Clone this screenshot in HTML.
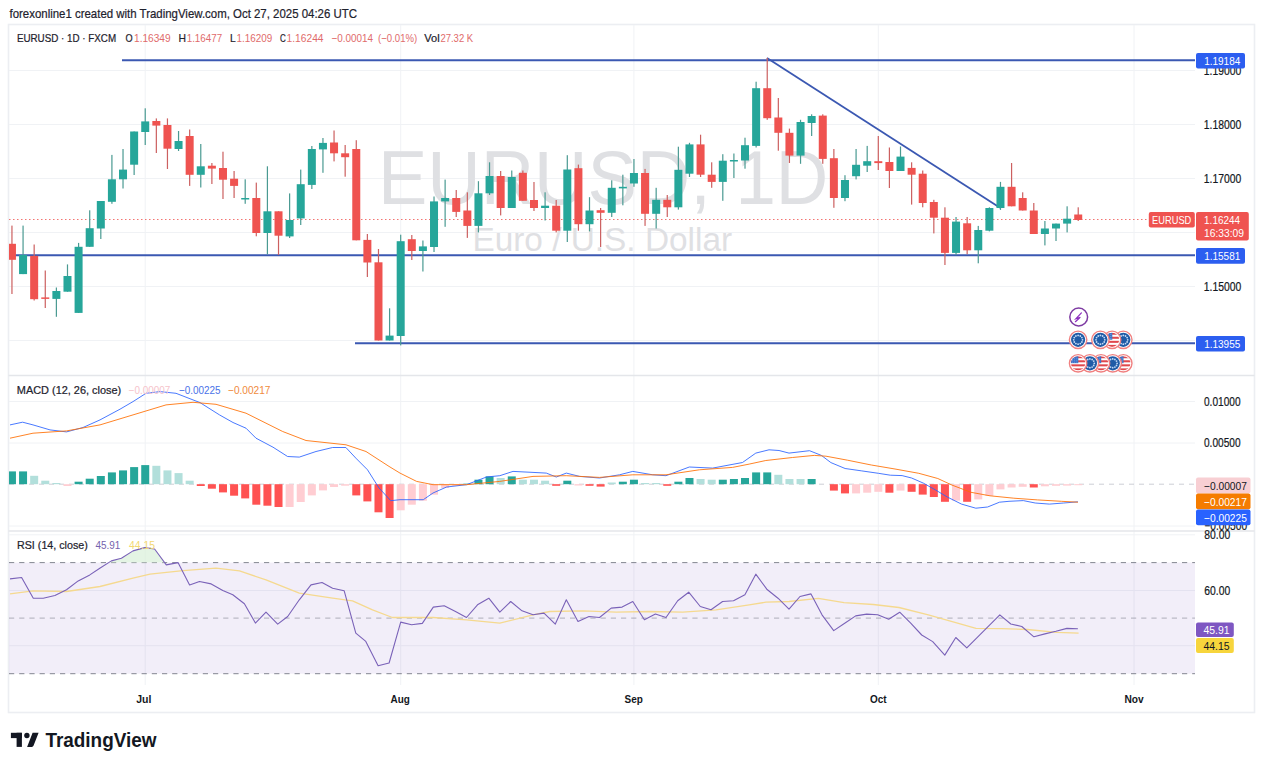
<!DOCTYPE html>
<html><head><meta charset="utf-8"><style>
html,body{margin:0;padding:0;background:#fff;width:1263px;height:768px;overflow:hidden}
svg{position:absolute;left:0;top:0;font-family:"Liberation Sans", sans-serif}
</style></head><body>
<svg width="1263" height="768" viewBox="0 0 1263 768">
<text x="9.5" y="17.9" font-size="12.8" fill="#1e222d" stroke="#1e222d" stroke-width="0.22" textLength="347.5" lengthAdjust="spacingAndGlyphs">forexonline1 created with TradingView.com, Oct 27, 2025 04:26 UTC</text>
<defs>
<clipPath id="cMain"><rect x="9" y="25" width="1186" height="350"/></clipPath>
<clipPath id="cMacd"><rect x="9" y="376" width="1186" height="154"/></clipPath>
<clipPath id="cRsi"><rect x="9" y="531.5" width="1186" height="153"/></clipPath>
<linearGradient id="gOB" x1="0" y1="0" x2="0" y2="1"><stop offset="0" stop-color="#4caf50" stop-opacity="0.35"/><stop offset="1" stop-color="#4caf50" stop-opacity="0.05"/></linearGradient>
</defs>
<rect x="8.5" y="24.5" width="1246" height="688" fill="#fff" stroke="#eceef2" stroke-width="1.6"/>
<line x1="145.2" y1="25" x2="145.2" y2="685" stroke="#f0f2f5" stroke-width="1"/>
<line x1="400.7" y1="25" x2="400.7" y2="685" stroke="#f0f2f5" stroke-width="1"/>
<line x1="633.9" y1="25" x2="633.9" y2="685" stroke="#f0f2f5" stroke-width="1"/>
<line x1="878.3" y1="25" x2="878.3" y2="685" stroke="#f0f2f5" stroke-width="1"/>
<line x1="1134.0" y1="25" x2="1134.0" y2="685" stroke="#f0f2f5" stroke-width="1"/>
<line x1="9" y1="340.5" x2="1195" y2="340.5" stroke="#f0f2f5" stroke-width="1"/>
<line x1="9" y1="286.5" x2="1195" y2="286.5" stroke="#f0f2f5" stroke-width="1"/>
<line x1="9" y1="232.5" x2="1195" y2="232.5" stroke="#f0f2f5" stroke-width="1"/>
<line x1="9" y1="178.5" x2="1195" y2="178.5" stroke="#f0f2f5" stroke-width="1"/>
<line x1="9" y1="124.5" x2="1195" y2="124.5" stroke="#f0f2f5" stroke-width="1"/>
<line x1="9" y1="70.5" x2="1195" y2="70.5" stroke="#f0f2f5" stroke-width="1"/>
<line x1="9" y1="401.5" x2="1195" y2="401.5" stroke="#f0f2f5" stroke-width="1"/>
<line x1="9" y1="443" x2="1195" y2="443" stroke="#f0f2f5" stroke-width="1"/>
<line x1="9" y1="526" x2="1195" y2="526" stroke="#f0f2f5" stroke-width="1"/>
<line x1="9" y1="534.8" x2="1195" y2="534.8" stroke="#f0f2f5" stroke-width="1"/>
<line x1="9" y1="590.5" x2="1195" y2="590.5" stroke="#f0f2f5" stroke-width="1"/>
<line x1="9" y1="645.7" x2="1195" y2="645.7" stroke="#f0f2f5" stroke-width="1"/>
<line x1="8.5" y1="375.5" x2="1254.5" y2="375.5" stroke="#e4e6ea" stroke-width="1.5"/>
<line x1="8.5" y1="531" x2="1254.5" y2="531" stroke="#e4e6ea" stroke-width="1.5"/>
<text x="377.9" y="204.4" font-family='"Liberation Sans", sans-serif' font-size="76.5" fill="#dfe0e3" textLength="332.9" lengthAdjust="spacingAndGlyphs">EURUSD,</text>
<text x="735.5" y="204.4" font-family='"Liberation Sans", sans-serif' font-size="76.5" fill="#dfe0e3" textLength="92.8" lengthAdjust="spacingAndGlyphs">1D</text>
<text x="472.4" y="250.5" font-family='"Liberation Sans", sans-serif' font-size="32.5" fill="#dfe0e3" textLength="259.7" lengthAdjust="spacingAndGlyphs">Euro / U.S. Dollar</text>
<g clip-path="url(#cMain)">
<line x1="9" y1="219.5" x2="1195" y2="219.5" stroke="#ef5350" stroke-width="1" stroke-dasharray="1.5,2.5" opacity="0.8"/>
<line x1="122" y1="60.2" x2="1195" y2="60.2" stroke="#3b58b2" stroke-width="2"/>
<line x1="9" y1="255.3" x2="1195" y2="255.3" stroke="#3b58b2" stroke-width="2"/>
<line x1="355" y1="343.3" x2="1195" y2="343.3" stroke="#3b58b2" stroke-width="2"/>
<line x1="767" y1="58" x2="1000" y2="207.8" stroke="#3b58b2" stroke-width="1.8"/>
<rect x="11.35" y="225.6" width="1.2" height="68.4" fill="#cc6060"/>
<rect x="7.95" y="243.8" width="8" height="16.0" fill="#ef5350"/>
<rect x="22.46" y="225.6" width="1.2" height="48.5" fill="#4a9a92"/>
<rect x="19.06" y="254.9" width="8" height="19.2" fill="#26a69a"/>
<rect x="33.56" y="244.5" width="1.2" height="56.0" fill="#cc6060"/>
<rect x="30.16" y="255.9" width="8" height="43.3" fill="#ef5350"/>
<rect x="44.67" y="270.5" width="1.2" height="37.5" fill="#cc6060"/>
<rect x="41.27" y="297.4" width="8" height="1.5" fill="#ef5350"/>
<rect x="55.78" y="287.5" width="1.2" height="29.3" fill="#4a9a92"/>
<rect x="52.38" y="291.0" width="8" height="7.9" fill="#26a69a"/>
<rect x="66.89" y="264.4" width="1.2" height="27.3" fill="#4a9a92"/>
<rect x="63.48" y="276.0" width="8" height="15.7" fill="#26a69a"/>
<rect x="77.99" y="242.9" width="1.2" height="70.0" fill="#4a9a92"/>
<rect x="74.59" y="246.8" width="8" height="66.1" fill="#26a69a"/>
<rect x="89.10" y="210.3" width="1.2" height="36.5" fill="#4a9a92"/>
<rect x="85.70" y="228.2" width="8" height="18.6" fill="#26a69a"/>
<rect x="100.21" y="201.0" width="1.2" height="38.0" fill="#4a9a92"/>
<rect x="96.81" y="201.0" width="8" height="27.5" fill="#26a69a"/>
<rect x="111.31" y="154.9" width="1.2" height="48.9" fill="#4a9a92"/>
<rect x="107.91" y="179.3" width="8" height="22.5" fill="#26a69a"/>
<rect x="122.42" y="149.0" width="1.2" height="39.5" fill="#4a9a92"/>
<rect x="119.02" y="169.6" width="8" height="9.7" fill="#26a69a"/>
<rect x="133.53" y="131.5" width="1.2" height="43.5" fill="#4a9a92"/>
<rect x="130.13" y="131.5" width="8" height="33.2" fill="#26a69a"/>
<rect x="144.63" y="108.3" width="1.2" height="36.7" fill="#4a9a92"/>
<rect x="141.23" y="121.4" width="8" height="10.6" fill="#26a69a"/>
<rect x="155.74" y="118.4" width="1.2" height="34.6" fill="#cc6060"/>
<rect x="152.34" y="121.0" width="8" height="4.6" fill="#ef5350"/>
<rect x="166.85" y="118.4" width="1.2" height="50.6" fill="#cc6060"/>
<rect x="163.45" y="125.0" width="8" height="23.7" fill="#ef5350"/>
<rect x="177.95" y="131.0" width="1.2" height="20.0" fill="#4a9a92"/>
<rect x="174.55" y="141.0" width="8" height="8.0" fill="#26a69a"/>
<rect x="189.06" y="129.5" width="1.2" height="56.4" fill="#cc6060"/>
<rect x="185.66" y="136.0" width="8" height="38.8" fill="#ef5350"/>
<rect x="200.17" y="144.0" width="1.2" height="43.5" fill="#4a9a92"/>
<rect x="196.77" y="166.3" width="8" height="8.5" fill="#26a69a"/>
<rect x="211.28" y="163.0" width="1.2" height="21.0" fill="#cc6060"/>
<rect x="207.88" y="165.7" width="8" height="2.9" fill="#ef5350"/>
<rect x="222.38" y="151.7" width="1.2" height="47.3" fill="#cc6060"/>
<rect x="218.98" y="168.0" width="8" height="11.7" fill="#ef5350"/>
<rect x="233.49" y="171.0" width="1.2" height="27.0" fill="#cc6060"/>
<rect x="230.09" y="178.7" width="8" height="7.2" fill="#ef5350"/>
<rect x="244.60" y="179.3" width="1.2" height="24.5" fill="#4a9a92"/>
<rect x="241.20" y="198.0" width="8" height="1.5" fill="#26a69a"/>
<rect x="255.70" y="182.6" width="1.2" height="53.7" fill="#cc6060"/>
<rect x="252.30" y="198.0" width="8" height="35.0" fill="#ef5350"/>
<rect x="266.81" y="166.3" width="1.2" height="88.0" fill="#4a9a92"/>
<rect x="263.41" y="211.3" width="8" height="21.7" fill="#26a69a"/>
<rect x="277.92" y="211.3" width="1.2" height="43.7" fill="#cc6060"/>
<rect x="274.52" y="211.3" width="8" height="24.4" fill="#ef5350"/>
<rect x="289.02" y="193.4" width="1.2" height="44.6" fill="#4a9a92"/>
<rect x="285.62" y="220.0" width="8" height="16.4" fill="#26a69a"/>
<rect x="300.13" y="169.6" width="1.2" height="55.4" fill="#4a9a92"/>
<rect x="296.73" y="184.2" width="8" height="34.2" fill="#26a69a"/>
<rect x="311.24" y="146.0" width="1.2" height="43.0" fill="#4a9a92"/>
<rect x="307.84" y="149.0" width="8" height="35.9" fill="#26a69a"/>
<rect x="322.35" y="138.0" width="1.2" height="34.8" fill="#4a9a92"/>
<rect x="318.95" y="142.9" width="8" height="6.5" fill="#26a69a"/>
<rect x="333.45" y="130.5" width="1.2" height="30.9" fill="#cc6060"/>
<rect x="330.05" y="142.5" width="8" height="10.8" fill="#ef5350"/>
<rect x="344.56" y="145.0" width="1.2" height="31.7" fill="#cc6060"/>
<rect x="341.16" y="153.3" width="8" height="3.9" fill="#ef5350"/>
<rect x="355.67" y="140.2" width="1.2" height="100.1" fill="#cc6060"/>
<rect x="352.27" y="149.0" width="8" height="91.3" fill="#ef5350"/>
<rect x="366.77" y="234.0" width="1.2" height="43.0" fill="#cc6060"/>
<rect x="363.37" y="239.9" width="8" height="22.6" fill="#ef5350"/>
<rect x="377.88" y="249.0" width="1.2" height="91.5" fill="#cc6060"/>
<rect x="374.48" y="262.3" width="8" height="78.2" fill="#ef5350"/>
<rect x="388.99" y="308.3" width="1.2" height="32.2" fill="#4a9a92"/>
<rect x="385.59" y="335.6" width="8" height="4.9" fill="#26a69a"/>
<rect x="400.09" y="234.7" width="1.2" height="110.7" fill="#4a9a92"/>
<rect x="396.69" y="241.2" width="8" height="94.8" fill="#26a69a"/>
<rect x="411.20" y="235.0" width="1.2" height="25.0" fill="#cc6060"/>
<rect x="407.80" y="239.2" width="8" height="11.8" fill="#ef5350"/>
<rect x="422.31" y="240.5" width="1.2" height="31.0" fill="#4a9a92"/>
<rect x="418.91" y="246.4" width="8" height="4.6" fill="#26a69a"/>
<rect x="433.42" y="196.5" width="1.2" height="55.5" fill="#4a9a92"/>
<rect x="430.02" y="201.4" width="8" height="45.6" fill="#26a69a"/>
<rect x="444.52" y="179.6" width="1.2" height="47.2" fill="#4a9a92"/>
<rect x="441.12" y="198.0" width="8" height="3.4" fill="#26a69a"/>
<rect x="455.63" y="190.0" width="1.2" height="27.0" fill="#cc6060"/>
<rect x="452.23" y="198.0" width="8" height="13.9" fill="#ef5350"/>
<rect x="466.74" y="192.3" width="1.2" height="45.6" fill="#cc6060"/>
<rect x="463.34" y="210.5" width="8" height="15.4" fill="#ef5350"/>
<rect x="477.84" y="181.2" width="1.2" height="51.2" fill="#4a9a92"/>
<rect x="474.44" y="193.3" width="8" height="32.6" fill="#26a69a"/>
<rect x="488.95" y="162.3" width="1.2" height="32.7" fill="#4a9a92"/>
<rect x="485.55" y="176.0" width="8" height="17.3" fill="#26a69a"/>
<rect x="500.06" y="171.0" width="1.2" height="44.4" fill="#cc6060"/>
<rect x="496.66" y="176.0" width="8" height="32.0" fill="#ef5350"/>
<rect x="511.16" y="170.5" width="1.2" height="37.5" fill="#4a9a92"/>
<rect x="507.76" y="177.0" width="8" height="31.0" fill="#26a69a"/>
<rect x="522.27" y="170.5" width="1.2" height="30.3" fill="#cc6060"/>
<rect x="518.87" y="172.8" width="8" height="28.0" fill="#ef5350"/>
<rect x="533.38" y="182.0" width="1.2" height="29.0" fill="#cc6060"/>
<rect x="529.98" y="200.0" width="8" height="8.0" fill="#ef5350"/>
<rect x="544.49" y="192.3" width="1.2" height="28.2" fill="#4a9a92"/>
<rect x="541.09" y="205.7" width="8" height="2.3" fill="#26a69a"/>
<rect x="555.59" y="200.0" width="1.2" height="32.4" fill="#cc6060"/>
<rect x="552.19" y="205.7" width="8" height="25.0" fill="#ef5350"/>
<rect x="566.70" y="155.2" width="1.2" height="86.8" fill="#4a9a92"/>
<rect x="563.30" y="169.5" width="8" height="61.2" fill="#26a69a"/>
<rect x="577.81" y="164.6" width="1.2" height="66.1" fill="#cc6060"/>
<rect x="574.41" y="168.2" width="8" height="56.0" fill="#ef5350"/>
<rect x="588.91" y="197.2" width="1.2" height="34.2" fill="#4a9a92"/>
<rect x="585.51" y="210.5" width="8" height="13.7" fill="#26a69a"/>
<rect x="600.02" y="208.0" width="1.2" height="39.0" fill="#cc6060"/>
<rect x="596.62" y="210.2" width="8" height="2.6" fill="#ef5350"/>
<rect x="611.13" y="180.3" width="1.2" height="36.7" fill="#4a9a92"/>
<rect x="607.73" y="187.8" width="8" height="25.0" fill="#26a69a"/>
<rect x="622.24" y="174.7" width="1.2" height="30.6" fill="#4a9a92"/>
<rect x="618.84" y="186.8" width="8" height="1.6" fill="#26a69a"/>
<rect x="633.34" y="159.0" width="1.2" height="27.8" fill="#4a9a92"/>
<rect x="629.94" y="173.0" width="8" height="10.5" fill="#26a69a"/>
<rect x="644.45" y="168.9" width="1.2" height="57.0" fill="#cc6060"/>
<rect x="641.05" y="173.0" width="8" height="40.8" fill="#ef5350"/>
<rect x="655.56" y="187.8" width="1.2" height="40.7" fill="#4a9a92"/>
<rect x="652.16" y="199.8" width="8" height="14.0" fill="#26a69a"/>
<rect x="666.66" y="195.0" width="1.2" height="22.0" fill="#cc6060"/>
<rect x="663.26" y="199.8" width="8" height="7.5" fill="#ef5350"/>
<rect x="677.77" y="146.7" width="1.2" height="62.9" fill="#4a9a92"/>
<rect x="674.37" y="169.8" width="8" height="37.5" fill="#26a69a"/>
<rect x="688.88" y="142.8" width="1.2" height="34.2" fill="#4a9a92"/>
<rect x="685.48" y="144.4" width="8" height="29.3" fill="#26a69a"/>
<rect x="699.98" y="134.7" width="1.2" height="42.3" fill="#cc6060"/>
<rect x="696.58" y="144.4" width="8" height="30.3" fill="#ef5350"/>
<rect x="711.09" y="162.3" width="1.2" height="25.5" fill="#cc6060"/>
<rect x="707.69" y="174.7" width="8" height="7.2" fill="#ef5350"/>
<rect x="722.20" y="154.2" width="1.2" height="46.6" fill="#4a9a92"/>
<rect x="718.80" y="160.7" width="8" height="21.2" fill="#26a69a"/>
<rect x="733.30" y="153.5" width="1.2" height="24.5" fill="#4a9a92"/>
<rect x="729.90" y="160.0" width="8" height="1.5" fill="#26a69a"/>
<rect x="744.41" y="137.7" width="1.2" height="31.0" fill="#4a9a92"/>
<rect x="741.01" y="145.2" width="8" height="15.3" fill="#26a69a"/>
<rect x="755.52" y="81.7" width="1.2" height="65.8" fill="#4a9a92"/>
<rect x="752.12" y="88.2" width="8" height="57.7" fill="#26a69a"/>
<rect x="766.63" y="57.9" width="1.2" height="61.9" fill="#cc6060"/>
<rect x="763.23" y="88.2" width="8" height="30.0" fill="#ef5350"/>
<rect x="777.73" y="98.0" width="1.2" height="52.7" fill="#cc6060"/>
<rect x="774.33" y="117.5" width="8" height="15.3" fill="#ef5350"/>
<rect x="788.84" y="128.6" width="1.2" height="34.4" fill="#cc6060"/>
<rect x="785.44" y="132.8" width="8" height="22.8" fill="#ef5350"/>
<rect x="799.95" y="119.8" width="1.2" height="44.0" fill="#4a9a92"/>
<rect x="796.55" y="122.0" width="8" height="33.6" fill="#26a69a"/>
<rect x="811.05" y="114.3" width="1.2" height="21.7" fill="#4a9a92"/>
<rect x="807.65" y="116.0" width="8" height="7.0" fill="#26a69a"/>
<rect x="822.16" y="114.3" width="1.2" height="49.5" fill="#cc6060"/>
<rect x="818.76" y="115.6" width="8" height="43.3" fill="#ef5350"/>
<rect x="833.27" y="149.0" width="1.2" height="58.8" fill="#cc6060"/>
<rect x="829.87" y="158.2" width="8" height="39.8" fill="#ef5350"/>
<rect x="844.38" y="175.2" width="1.2" height="26.0" fill="#4a9a92"/>
<rect x="840.98" y="180.0" width="8" height="18.0" fill="#26a69a"/>
<rect x="855.48" y="149.0" width="1.2" height="30.4" fill="#4a9a92"/>
<rect x="852.08" y="164.8" width="8" height="11.4" fill="#26a69a"/>
<rect x="866.59" y="145.9" width="1.2" height="26.1" fill="#4a9a92"/>
<rect x="863.19" y="161.2" width="8" height="4.5" fill="#26a69a"/>
<rect x="877.70" y="136.0" width="1.2" height="34.0" fill="#cc6060"/>
<rect x="874.30" y="161.2" width="8" height="1.9" fill="#ef5350"/>
<rect x="888.80" y="147.5" width="1.2" height="40.5" fill="#cc6060"/>
<rect x="885.40" y="162.0" width="8" height="9.0" fill="#ef5350"/>
<rect x="899.91" y="146.5" width="1.2" height="24.5" fill="#4a9a92"/>
<rect x="896.51" y="156.6" width="8" height="14.4" fill="#26a69a"/>
<rect x="911.02" y="162.3" width="1.2" height="42.3" fill="#cc6060"/>
<rect x="907.62" y="167.9" width="8" height="6.8" fill="#ef5350"/>
<rect x="922.12" y="170.5" width="1.2" height="36.8" fill="#cc6060"/>
<rect x="918.72" y="173.7" width="8" height="29.3" fill="#ef5350"/>
<rect x="933.23" y="199.8" width="1.2" height="33.6" fill="#cc6060"/>
<rect x="929.83" y="202.0" width="8" height="15.7" fill="#ef5350"/>
<rect x="944.34" y="207.3" width="1.2" height="57.7" fill="#cc6060"/>
<rect x="940.94" y="217.7" width="8" height="35.2" fill="#ef5350"/>
<rect x="955.44" y="217.0" width="1.2" height="38.2" fill="#4a9a92"/>
<rect x="952.04" y="221.6" width="8" height="31.3" fill="#26a69a"/>
<rect x="966.55" y="217.0" width="1.2" height="37.2" fill="#cc6060"/>
<rect x="963.15" y="223.3" width="8" height="27.0" fill="#ef5350"/>
<rect x="977.66" y="225.9" width="1.2" height="37.4" fill="#4a9a92"/>
<rect x="974.26" y="230.0" width="8" height="20.3" fill="#26a69a"/>
<rect x="988.77" y="207.3" width="1.2" height="24.1" fill="#4a9a92"/>
<rect x="985.37" y="208.0" width="8" height="22.7" fill="#26a69a"/>
<rect x="999.87" y="181.9" width="1.2" height="28.0" fill="#4a9a92"/>
<rect x="996.47" y="186.8" width="8" height="21.2" fill="#26a69a"/>
<rect x="1010.98" y="163.0" width="1.2" height="43.3" fill="#cc6060"/>
<rect x="1007.58" y="186.8" width="8" height="19.5" fill="#ef5350"/>
<rect x="1022.09" y="192.3" width="1.2" height="18.2" fill="#cc6060"/>
<rect x="1018.69" y="198.0" width="8" height="12.5" fill="#ef5350"/>
<rect x="1033.19" y="203.0" width="1.2" height="31.0" fill="#cc6060"/>
<rect x="1029.79" y="210.5" width="8" height="23.5" fill="#ef5350"/>
<rect x="1044.30" y="221.0" width="1.2" height="24.4" fill="#4a9a92"/>
<rect x="1040.90" y="228.5" width="8" height="5.5" fill="#26a69a"/>
<rect x="1055.41" y="223.6" width="1.2" height="17.4" fill="#4a9a92"/>
<rect x="1052.01" y="223.6" width="8" height="4.9" fill="#26a69a"/>
<rect x="1066.52" y="206.3" width="1.2" height="26.1" fill="#4a9a92"/>
<rect x="1063.12" y="218.7" width="8" height="4.9" fill="#26a69a"/>
<rect x="1077.62" y="207.3" width="1.2" height="13.7" fill="#cc6060"/>
<rect x="1074.22" y="214.5" width="8" height="5.5" fill="#ef5350"/>
</g>
<g>
<circle cx="1078.7" cy="317" r="8.9" fill="#fff" stroke="#7e3ba3" stroke-width="1.5"/>
<path d="M1081.4,312.9 L1076.0,318.6 L1080.3,317.3 L1075.4,321.7" fill="none" stroke="#8e2fc0" stroke-width="1.25" stroke-linejoin="miter" stroke-linecap="round"/>
<circle cx="1123.3" cy="363.3" r="8.7" fill="#fff" stroke="#f08080" stroke-width="1.4"/><clipPath id="usc1"><circle cx="1123.3" cy="363.3" r="7.1"/></clipPath><g clip-path="url(#usc1)"><rect x="1115.3" y="355.3" width="16" height="16" fill="#fff"/><rect x="1115.3" y="356.20" width="16" height="2.03" fill="#e0474c"/><rect x="1115.3" y="360.26" width="16" height="2.03" fill="#e0474c"/><rect x="1115.3" y="364.32" width="16" height="2.03" fill="#e0474c"/><rect x="1115.3" y="368.38" width="16" height="2.03" fill="#e0474c"/><rect x="1115.3" y="355.3" width="8.2" height="7.9" fill="#3d72c8"/><circle cx="1117.70" cy="358.10" r="0.45" fill="#b9d2f2"/><circle cx="1117.70" cy="360.10" r="0.45" fill="#b9d2f2"/><circle cx="1117.70" cy="362.10" r="0.45" fill="#b9d2f2"/><circle cx="1119.90" cy="358.10" r="0.45" fill="#b9d2f2"/><circle cx="1119.90" cy="360.10" r="0.45" fill="#b9d2f2"/><circle cx="1119.90" cy="362.10" r="0.45" fill="#b9d2f2"/><circle cx="1122.10" cy="358.10" r="0.45" fill="#b9d2f2"/><circle cx="1122.10" cy="360.10" r="0.45" fill="#b9d2f2"/><circle cx="1122.10" cy="362.10" r="0.45" fill="#b9d2f2"/></g>
<circle cx="1112.7" cy="363.3" r="8.7" fill="#fff" stroke="#f08080" stroke-width="1.4"/><circle cx="1112.7" cy="363.3" r="7.1" fill="#1f5ba6"/><circle cx="1117.10" cy="363.30" r="0.9" fill="#c4daf5"/><circle cx="1116.51" cy="365.50" r="0.9" fill="#c4daf5"/><circle cx="1114.90" cy="367.11" r="0.9" fill="#c4daf5"/><circle cx="1112.70" cy="367.70" r="0.9" fill="#c4daf5"/><circle cx="1110.50" cy="367.11" r="0.9" fill="#c4daf5"/><circle cx="1108.89" cy="365.50" r="0.9" fill="#c4daf5"/><circle cx="1108.30" cy="363.30" r="0.9" fill="#c4daf5"/><circle cx="1108.89" cy="361.10" r="0.9" fill="#c4daf5"/><circle cx="1110.50" cy="359.49" r="0.9" fill="#c4daf5"/><circle cx="1112.70" cy="358.90" r="0.9" fill="#c4daf5"/><circle cx="1114.90" cy="359.49" r="0.9" fill="#c4daf5"/><circle cx="1116.51" cy="361.10" r="0.9" fill="#c4daf5"/>
<circle cx="1101" cy="363.3" r="8.7" fill="#fff" stroke="#f08080" stroke-width="1.4"/><clipPath id="usc2"><circle cx="1101" cy="363.3" r="7.1"/></clipPath><g clip-path="url(#usc2)"><rect x="1093" y="355.3" width="16" height="16" fill="#fff"/><rect x="1093" y="356.20" width="16" height="2.03" fill="#e0474c"/><rect x="1093" y="360.26" width="16" height="2.03" fill="#e0474c"/><rect x="1093" y="364.32" width="16" height="2.03" fill="#e0474c"/><rect x="1093" y="368.38" width="16" height="2.03" fill="#e0474c"/><rect x="1093" y="355.3" width="8.2" height="7.9" fill="#3d72c8"/><circle cx="1095.40" cy="358.10" r="0.45" fill="#b9d2f2"/><circle cx="1095.40" cy="360.10" r="0.45" fill="#b9d2f2"/><circle cx="1095.40" cy="362.10" r="0.45" fill="#b9d2f2"/><circle cx="1097.60" cy="358.10" r="0.45" fill="#b9d2f2"/><circle cx="1097.60" cy="360.10" r="0.45" fill="#b9d2f2"/><circle cx="1097.60" cy="362.10" r="0.45" fill="#b9d2f2"/><circle cx="1099.80" cy="358.10" r="0.45" fill="#b9d2f2"/><circle cx="1099.80" cy="360.10" r="0.45" fill="#b9d2f2"/><circle cx="1099.80" cy="362.10" r="0.45" fill="#b9d2f2"/></g>
<circle cx="1089.9" cy="363.3" r="8.7" fill="#fff" stroke="#f08080" stroke-width="1.4"/><circle cx="1089.9" cy="363.3" r="7.1" fill="#1f5ba6"/><circle cx="1094.30" cy="363.30" r="0.9" fill="#c4daf5"/><circle cx="1093.71" cy="365.50" r="0.9" fill="#c4daf5"/><circle cx="1092.10" cy="367.11" r="0.9" fill="#c4daf5"/><circle cx="1089.90" cy="367.70" r="0.9" fill="#c4daf5"/><circle cx="1087.70" cy="367.11" r="0.9" fill="#c4daf5"/><circle cx="1086.09" cy="365.50" r="0.9" fill="#c4daf5"/><circle cx="1085.50" cy="363.30" r="0.9" fill="#c4daf5"/><circle cx="1086.09" cy="361.10" r="0.9" fill="#c4daf5"/><circle cx="1087.70" cy="359.49" r="0.9" fill="#c4daf5"/><circle cx="1089.90" cy="358.90" r="0.9" fill="#c4daf5"/><circle cx="1092.10" cy="359.49" r="0.9" fill="#c4daf5"/><circle cx="1093.71" cy="361.10" r="0.9" fill="#c4daf5"/>
<circle cx="1078.1" cy="363.3" r="8.7" fill="#fff" stroke="#f08080" stroke-width="1.4"/><clipPath id="usc3"><circle cx="1078.1" cy="363.3" r="7.1"/></clipPath><g clip-path="url(#usc3)"><rect x="1070.1" y="355.3" width="16" height="16" fill="#fff"/><rect x="1070.1" y="356.20" width="16" height="2.03" fill="#e0474c"/><rect x="1070.1" y="360.26" width="16" height="2.03" fill="#e0474c"/><rect x="1070.1" y="364.32" width="16" height="2.03" fill="#e0474c"/><rect x="1070.1" y="368.38" width="16" height="2.03" fill="#e0474c"/><rect x="1070.1" y="355.3" width="8.2" height="7.9" fill="#3d72c8"/><circle cx="1072.50" cy="358.10" r="0.45" fill="#b9d2f2"/><circle cx="1072.50" cy="360.10" r="0.45" fill="#b9d2f2"/><circle cx="1072.50" cy="362.10" r="0.45" fill="#b9d2f2"/><circle cx="1074.70" cy="358.10" r="0.45" fill="#b9d2f2"/><circle cx="1074.70" cy="360.10" r="0.45" fill="#b9d2f2"/><circle cx="1074.70" cy="362.10" r="0.45" fill="#b9d2f2"/><circle cx="1076.90" cy="358.10" r="0.45" fill="#b9d2f2"/><circle cx="1076.90" cy="360.10" r="0.45" fill="#b9d2f2"/><circle cx="1076.90" cy="362.10" r="0.45" fill="#b9d2f2"/></g>
<circle cx="1123.3" cy="339.8" r="8.7" fill="#fff" stroke="#f08080" stroke-width="1.4"/><circle cx="1123.3" cy="339.8" r="7.1" fill="#1f5ba6"/><circle cx="1127.70" cy="339.80" r="0.9" fill="#c4daf5"/><circle cx="1127.11" cy="342.00" r="0.9" fill="#c4daf5"/><circle cx="1125.50" cy="343.61" r="0.9" fill="#c4daf5"/><circle cx="1123.30" cy="344.20" r="0.9" fill="#c4daf5"/><circle cx="1121.10" cy="343.61" r="0.9" fill="#c4daf5"/><circle cx="1119.49" cy="342.00" r="0.9" fill="#c4daf5"/><circle cx="1118.90" cy="339.80" r="0.9" fill="#c4daf5"/><circle cx="1119.49" cy="337.60" r="0.9" fill="#c4daf5"/><circle cx="1121.10" cy="335.99" r="0.9" fill="#c4daf5"/><circle cx="1123.30" cy="335.40" r="0.9" fill="#c4daf5"/><circle cx="1125.50" cy="335.99" r="0.9" fill="#c4daf5"/><circle cx="1127.11" cy="337.60" r="0.9" fill="#c4daf5"/>
<circle cx="1112.1" cy="339.8" r="8.7" fill="#fff" stroke="#f08080" stroke-width="1.4"/><clipPath id="usc4"><circle cx="1112.1" cy="339.8" r="7.1"/></clipPath><g clip-path="url(#usc4)"><rect x="1104.1" y="331.8" width="16" height="16" fill="#fff"/><rect x="1104.1" y="332.70" width="16" height="2.03" fill="#e0474c"/><rect x="1104.1" y="336.76" width="16" height="2.03" fill="#e0474c"/><rect x="1104.1" y="340.82" width="16" height="2.03" fill="#e0474c"/><rect x="1104.1" y="344.88" width="16" height="2.03" fill="#e0474c"/><rect x="1104.1" y="331.8" width="8.2" height="7.9" fill="#3d72c8"/><circle cx="1106.50" cy="334.60" r="0.45" fill="#b9d2f2"/><circle cx="1106.50" cy="336.60" r="0.45" fill="#b9d2f2"/><circle cx="1106.50" cy="338.60" r="0.45" fill="#b9d2f2"/><circle cx="1108.70" cy="334.60" r="0.45" fill="#b9d2f2"/><circle cx="1108.70" cy="336.60" r="0.45" fill="#b9d2f2"/><circle cx="1108.70" cy="338.60" r="0.45" fill="#b9d2f2"/><circle cx="1110.90" cy="334.60" r="0.45" fill="#b9d2f2"/><circle cx="1110.90" cy="336.60" r="0.45" fill="#b9d2f2"/><circle cx="1110.90" cy="338.60" r="0.45" fill="#b9d2f2"/></g>
<circle cx="1100.4" cy="339.8" r="8.7" fill="#fff" stroke="#f08080" stroke-width="1.4"/><circle cx="1100.4" cy="339.8" r="7.1" fill="#1f5ba6"/><circle cx="1104.80" cy="339.80" r="0.9" fill="#c4daf5"/><circle cx="1104.21" cy="342.00" r="0.9" fill="#c4daf5"/><circle cx="1102.60" cy="343.61" r="0.9" fill="#c4daf5"/><circle cx="1100.40" cy="344.20" r="0.9" fill="#c4daf5"/><circle cx="1098.20" cy="343.61" r="0.9" fill="#c4daf5"/><circle cx="1096.59" cy="342.00" r="0.9" fill="#c4daf5"/><circle cx="1096.00" cy="339.80" r="0.9" fill="#c4daf5"/><circle cx="1096.59" cy="337.60" r="0.9" fill="#c4daf5"/><circle cx="1098.20" cy="335.99" r="0.9" fill="#c4daf5"/><circle cx="1100.40" cy="335.40" r="0.9" fill="#c4daf5"/><circle cx="1102.60" cy="335.99" r="0.9" fill="#c4daf5"/><circle cx="1104.21" cy="337.60" r="0.9" fill="#c4daf5"/>
<circle cx="1078.1" cy="339.8" r="8.7" fill="#fff" stroke="#f08080" stroke-width="1.4"/><circle cx="1078.1" cy="339.8" r="7.1" fill="#1f5ba6"/><circle cx="1082.50" cy="339.80" r="0.9" fill="#c4daf5"/><circle cx="1081.91" cy="342.00" r="0.9" fill="#c4daf5"/><circle cx="1080.30" cy="343.61" r="0.9" fill="#c4daf5"/><circle cx="1078.10" cy="344.20" r="0.9" fill="#c4daf5"/><circle cx="1075.90" cy="343.61" r="0.9" fill="#c4daf5"/><circle cx="1074.29" cy="342.00" r="0.9" fill="#c4daf5"/><circle cx="1073.70" cy="339.80" r="0.9" fill="#c4daf5"/><circle cx="1074.29" cy="337.60" r="0.9" fill="#c4daf5"/><circle cx="1075.90" cy="335.99" r="0.9" fill="#c4daf5"/><circle cx="1078.10" cy="335.40" r="0.9" fill="#c4daf5"/><circle cx="1080.30" cy="335.99" r="0.9" fill="#c4daf5"/><circle cx="1081.91" cy="337.60" r="0.9" fill="#c4daf5"/>
</g>
<g clip-path="url(#cMacd)">
<line x1="9" y1="484.2" x2="1195" y2="484.2" stroke="#b8bcc6" stroke-width="1" stroke-dasharray="5,5" opacity="0.7"/>
<rect x="7.95" y="471.4" width="8" height="12.8" fill="#26a69a"/>
<rect x="19.06" y="471.4" width="8" height="12.8" fill="#26a69a"/>
<rect x="30.16" y="475.8" width="8" height="8.4" fill="#b2dfdb"/>
<rect x="41.27" y="480.7" width="8" height="3.5" fill="#b2dfdb"/>
<rect x="52.38" y="483.0" width="8" height="1.2" fill="#b2dfdb"/>
<rect x="63.48" y="484.2" width="8" height="1.8" fill="#ffcdd2"/>
<rect x="74.59" y="481.7" width="8" height="2.5" fill="#26a69a"/>
<rect x="85.70" y="478.7" width="8" height="5.5" fill="#26a69a"/>
<rect x="96.81" y="476.0" width="8" height="8.2" fill="#26a69a"/>
<rect x="107.91" y="472.4" width="8" height="11.8" fill="#26a69a"/>
<rect x="119.02" y="470.4" width="8" height="13.8" fill="#26a69a"/>
<rect x="130.13" y="467.1" width="8" height="17.1" fill="#26a69a"/>
<rect x="141.23" y="465.1" width="8" height="19.1" fill="#26a69a"/>
<rect x="152.34" y="465.8" width="8" height="18.4" fill="#b2dfdb"/>
<rect x="163.45" y="470.4" width="8" height="13.8" fill="#b2dfdb"/>
<rect x="174.55" y="473.1" width="8" height="11.1" fill="#b2dfdb"/>
<rect x="185.66" y="480.7" width="8" height="3.5" fill="#b2dfdb"/>
<rect x="196.77" y="484.2" width="8" height="1.8" fill="#ff5252"/>
<rect x="207.88" y="484.2" width="8" height="4.5" fill="#ff5252"/>
<rect x="218.98" y="484.2" width="8" height="8.2" fill="#ff5252"/>
<rect x="230.09" y="484.2" width="8" height="11.5" fill="#ff5252"/>
<rect x="241.20" y="484.2" width="8" height="14.2" fill="#ff5252"/>
<rect x="252.30" y="484.2" width="8" height="20.5" fill="#ff5252"/>
<rect x="263.41" y="484.2" width="8" height="21.5" fill="#ff5252"/>
<rect x="274.52" y="484.2" width="8" height="22.8" fill="#ff5252"/>
<rect x="285.62" y="484.2" width="8" height="22.8" fill="#ffcdd2"/>
<rect x="296.73" y="484.2" width="8" height="17.8" fill="#ffcdd2"/>
<rect x="307.84" y="484.2" width="8" height="11.2" fill="#ffcdd2"/>
<rect x="318.95" y="484.2" width="8" height="6.2" fill="#ffcdd2"/>
<rect x="330.05" y="484.2" width="8" height="2.8" fill="#ffcdd2"/>
<rect x="341.16" y="484.2" width="8" height="1.5" fill="#ffcdd2"/>
<rect x="352.27" y="484.2" width="8" height="11.2" fill="#ff5252"/>
<rect x="363.37" y="484.2" width="8" height="17.2" fill="#ff5252"/>
<rect x="374.48" y="484.2" width="8" height="28.1" fill="#ff5252"/>
<rect x="385.59" y="484.2" width="8" height="33.8" fill="#ff5252"/>
<rect x="396.69" y="484.2" width="8" height="26.1" fill="#ffcdd2"/>
<rect x="407.80" y="484.2" width="8" height="20.5" fill="#ffcdd2"/>
<rect x="418.91" y="484.2" width="8" height="16.5" fill="#ffcdd2"/>
<rect x="430.02" y="484.2" width="8" height="10.5" fill="#ffcdd2"/>
<rect x="441.12" y="484.2" width="8" height="3.8" fill="#ffcdd2"/>
<rect x="452.23" y="484.2" width="8" height="1.5" fill="#ffcdd2"/>
<rect x="463.34" y="483.0" width="8" height="1.2" fill="#b2dfdb"/>
<rect x="474.44" y="479.7" width="8" height="4.5" fill="#26a69a"/>
<rect x="485.55" y="476.4" width="8" height="7.8" fill="#26a69a"/>
<rect x="496.66" y="478.0" width="8" height="6.2" fill="#b2dfdb"/>
<rect x="507.76" y="476.4" width="8" height="7.8" fill="#26a69a"/>
<rect x="518.87" y="479.7" width="8" height="4.5" fill="#b2dfdb"/>
<rect x="529.98" y="479.7" width="8" height="4.5" fill="#b2dfdb"/>
<rect x="541.09" y="480.7" width="8" height="3.5" fill="#b2dfdb"/>
<rect x="552.19" y="484.2" width="8" height="1.6" fill="#ff5252"/>
<rect x="563.30" y="480.7" width="8" height="3.5" fill="#26a69a"/>
<rect x="574.41" y="484.2" width="8" height="1.3" fill="#ffcdd2"/>
<rect x="585.51" y="484.2" width="8" height="1.6" fill="#ff5252"/>
<rect x="596.62" y="484.2" width="8" height="2.4" fill="#ff5252"/>
<rect x="607.73" y="482.5" width="8" height="1.7" fill="#b2dfdb"/>
<rect x="618.84" y="481.7" width="8" height="2.5" fill="#26a69a"/>
<rect x="629.94" y="479.7" width="8" height="4.5" fill="#26a69a"/>
<rect x="641.05" y="483.0" width="8" height="1.2" fill="#b2dfdb"/>
<rect x="652.16" y="483.0" width="8" height="1.2" fill="#b2dfdb"/>
<rect x="663.26" y="484.2" width="8" height="1.6" fill="#ff5252"/>
<rect x="674.37" y="481.7" width="8" height="2.5" fill="#26a69a"/>
<rect x="685.48" y="478.0" width="8" height="6.2" fill="#26a69a"/>
<rect x="696.58" y="479.0" width="8" height="5.2" fill="#b2dfdb"/>
<rect x="707.69" y="479.7" width="8" height="4.5" fill="#b2dfdb"/>
<rect x="718.80" y="479.7" width="8" height="4.5" fill="#26a69a"/>
<rect x="729.90" y="479.0" width="8" height="5.2" fill="#26a69a"/>
<rect x="741.01" y="478.0" width="8" height="6.2" fill="#26a69a"/>
<rect x="752.12" y="472.4" width="8" height="11.8" fill="#26a69a"/>
<rect x="763.23" y="472.4" width="8" height="11.8" fill="#26a69a"/>
<rect x="774.33" y="474.8" width="8" height="9.4" fill="#b2dfdb"/>
<rect x="785.44" y="479.0" width="8" height="5.2" fill="#b2dfdb"/>
<rect x="796.55" y="479.0" width="8" height="5.2" fill="#b2dfdb"/>
<rect x="807.65" y="479.0" width="8" height="5.2" fill="#26a69a"/>
<rect x="829.87" y="484.2" width="8" height="6.4" fill="#ff5252"/>
<rect x="840.98" y="484.2" width="8" height="9.2" fill="#ff5252"/>
<rect x="852.08" y="484.2" width="8" height="9.2" fill="#ffcdd2"/>
<rect x="863.19" y="484.2" width="8" height="8.5" fill="#ffcdd2"/>
<rect x="874.30" y="484.2" width="8" height="7.6" fill="#ffcdd2"/>
<rect x="885.40" y="484.2" width="8" height="8.5" fill="#ff5252"/>
<rect x="896.51" y="484.2" width="8" height="6.4" fill="#ffcdd2"/>
<rect x="907.62" y="484.2" width="8" height="7.6" fill="#ff5252"/>
<rect x="918.72" y="484.2" width="8" height="10.4" fill="#ff5252"/>
<rect x="929.83" y="484.2" width="8" height="12.8" fill="#ff5252"/>
<rect x="940.94" y="484.2" width="8" height="17.6" fill="#ff5252"/>
<rect x="952.04" y="484.2" width="8" height="16.4" fill="#ffcdd2"/>
<rect x="963.15" y="484.2" width="8" height="17.6" fill="#ff5252"/>
<rect x="974.26" y="484.2" width="8" height="15.2" fill="#ffcdd2"/>
<rect x="985.37" y="484.2" width="8" height="11.6" fill="#ffcdd2"/>
<rect x="996.47" y="484.2" width="8" height="5.2" fill="#ffcdd2"/>
<rect x="1007.58" y="484.2" width="8" height="3.3" fill="#ffcdd2"/>
<rect x="1018.69" y="484.2" width="8" height="2.6" fill="#ffcdd2"/>
<rect x="1029.79" y="484.2" width="8" height="3.3" fill="#ff5252"/>
<rect x="1040.90" y="484.2" width="8" height="2.1" fill="#ffcdd2"/>
<rect x="1052.01" y="484.2" width="8" height="1.6" fill="#ffcdd2"/>
<rect x="1063.12" y="484.2" width="8" height="1.4" fill="#ffcdd2"/>
<rect x="1074.22" y="484.2" width="8" height="1.0" fill="#ffcdd2"/>
<polyline points="10.0,424.9 22.6,422.2 33.0,424.9 50.0,429.9 66.5,431.9 83.0,427.5 100.0,419.9 120.0,409.2 133.0,401.6 146.0,393.3 160.0,391.6 176.0,393.3 200.0,402.6 219.5,414.9 233.0,422.5 246.0,428.2 256.0,438.2 273.0,447.2 287.6,456.5 299.3,457.1 316.0,451.5 332.6,447.5 345.9,447.5 355.8,458.1 367.5,469.8 379.0,488.0 390.8,500.7 400.0,499.7 423.3,499.7 433.0,493.0 446.6,487.0 466.5,484.7 486.5,477.0 499.8,475.7 513.0,471.4 533.0,472.4 546.3,473.1 556.3,477.0 566.3,473.1 579.6,476.4 599.5,478.0 619.5,474.8 632.8,471.4 652.7,474.8 666.0,475.7 689.3,467.0 712.6,468.1 742.5,462.5 755.8,453.1 769.0,449.8 779.0,450.5 789.0,453.1 809.5,450.7 821.4,455.4 830.9,462.6 845.1,468.5 861.8,470.9 878.4,473.3 890.3,475.2 902.1,475.6 911.6,478.0 923.5,483.2 935.4,489.9 947.3,497.0 961.5,504.1 975.8,508.2 987.6,507.0 999.5,502.2 1009.0,501.3 1023.3,500.6 1035.2,503.0 1049.4,504.1 1063.7,503.0 1077.9,501.8" fill="none" stroke="#2962ff" stroke-width="1" stroke-linejoin="round" opacity="0.85"/>
<polyline points="10.0,438.2 33.0,433.2 66.5,430.9 100.0,424.9 133.0,414.9 166.0,404.9 193.0,402.3 216.0,404.3 246.0,413.2 282.7,431.5 306.0,440.5 346.0,444.8 366.0,451.5 389.0,466.4 400.0,473.1 416.6,481.4 433.0,484.7 466.5,484.7 499.8,481.4 533.0,476.4 566.3,475.7 599.5,477.4 632.8,474.8 666.0,474.8 699.3,469.8 732.6,467.4 749.2,464.1 765.8,460.5 792.4,457.5 814.3,455.4 826.0,456.2 847.5,460.2 871.3,465.0 895.0,469.0 918.8,473.3 937.8,478.5 952.0,485.1 971.0,492.3 990.0,495.8 1013.8,498.2 1037.5,499.9 1061.3,501.3 1078.0,502.2" fill="none" stroke="#ff6d00" stroke-width="1" stroke-linejoin="round" opacity="0.85"/>
</g>
<g clip-path="url(#cRsi)">
<rect x="9" y="562.6" width="1186" height="111.1" fill="#7e57c2" fill-opacity="0.1"/>
<line x1="9" y1="562.6" x2="1195" y2="562.6" stroke="#787b86" stroke-width="1" stroke-dasharray="5.2,5.0" stroke-dashoffset="0" opacity="0.9"/>
<line x1="9" y1="618.1" x2="1195" y2="618.1" stroke="#787b86" stroke-width="1" stroke-dasharray="5.2,5.0" stroke-dashoffset="0" opacity="0.55"/>
<line x1="9" y1="673.7" x2="1195" y2="673.7" stroke="#787b86" stroke-width="1" stroke-dasharray="5.2,5.0" stroke-dashoffset="0" opacity="0.9"/>
<path d="M108.7,562.6 L111.4,560.9 L121.4,558.3 L133,550.9 L144.7,547.6 L154.6,549 L164.6,562.6 Z" fill="#d8efd8" fill-opacity="0.7"/>
<polyline points="10.0,593.8 33.0,590.8 66.5,591.5 100.0,586.5 133.0,578.2 150.0,574.2 183.0,570.6 216.0,568.2 239.5,570.9 266.0,579.9 299.3,593.2 332.6,598.2 352.5,600.8 372.5,609.8 392.4,617.5 433.0,617.5 466.5,619.8 499.8,623.1 533.0,614.8 549.6,611.5 583.0,610.8 616.2,612.1 649.4,611.5 682.7,612.1 716.0,609.8 749.2,604.8 765.8,602.2 789.0,601.5 818.3,598.3 844.0,602.7 873.3,604.5 899.0,607.5 928.3,614.8 954.0,622.1 976.0,628.4 1001.6,628.7 1027.3,629.5 1056.6,632.4 1078.6,633.1" fill="none" stroke="#f5d98f" stroke-width="1.3" stroke-linejoin="round"/>
<polyline points="10.0,578.9 21.6,577.5 33.3,598.2 43.2,598.2 54.9,595.5 66.5,589.8 78.2,580.9 89.8,574.9 99.8,568.2 111.4,560.9 121.4,558.3 133.0,550.9 144.7,547.6 154.6,549.0 166.3,564.9 178.0,562.6 189.6,584.9 199.5,581.5 211.2,583.9 222.8,590.5 232.8,594.8 244.4,603.8 255.4,623.1 266.0,612.1 277.7,624.1 287.7,616.5 299.3,599.8 311.0,584.9 322.0,582.5 332.6,588.2 344.2,590.8 355.8,633.1 365.8,641.4 378.1,665.7 389.1,663.0 400.7,622.1 411.6,624.8 422.3,623.4 433.3,607.1 444.2,605.8 455.5,611.5 466.5,617.5 477.5,604.8 488.8,598.2 499.8,612.1 510.7,601.5 522.0,610.8 533.0,614.8 544.0,613.1 555.3,624.1 566.3,599.8 578.0,621.4 589.0,616.5 599.5,617.5 611.2,608.1 622.1,607.1 632.8,601.5 644.4,619.8 655.4,614.1 666.0,617.5 677.7,600.8 688.7,592.2 700.3,606.5 711.0,609.8 722.6,601.5 733.5,600.8 744.9,594.8 755.8,574.2 766.8,589.2 778.0,598.2 789.0,609.1 800.0,596.5 811.0,593.9 822.0,614.8 833.7,630.6 844.7,623.2 855.7,615.9 866.7,614.1 877.7,614.8 888.7,619.2 899.7,612.2 910.7,623.2 921.7,635.0 932.7,641.6 944.8,655.1 955.8,637.5 966.8,647.8 977.8,636.8 988.8,625.8 999.8,614.8 1010.8,624.0 1021.8,626.5 1033.9,636.8 1044.9,633.9 1055.9,631.3 1066.9,628.4 1077.9,628.7" fill="none" stroke="#7a62b8" stroke-width="1.1" stroke-linejoin="round"/>
</g>
<g font-size="11.5">
<text x="16.9" y="42.4" font-size="11.2" fill="#1e222d" stroke="#1e222d" stroke-width="0.22" textLength="99.2" lengthAdjust="spacingAndGlyphs">EURUSD · 1D · FXCM</text>
<text x="125.5" y="42.4" font-size="11.2" fill="#1e222d" stroke="#1e222d" stroke-width="0.22" textLength="7.1" lengthAdjust="spacingAndGlyphs">O</text>
<text x="134" y="42.4" font-size="11.2" fill="#df6b6b" stroke="none" stroke-width="0.22" textLength="36.6" lengthAdjust="spacingAndGlyphs">1.16349</text>
<text x="178.5" y="42.4" font-size="11.2" fill="#1e222d" stroke="#1e222d" stroke-width="0.22" textLength="7.5" lengthAdjust="spacingAndGlyphs">H</text>
<text x="186.7" y="42.4" font-size="11.2" fill="#df6b6b" stroke="none" stroke-width="0.22" textLength="35.4" lengthAdjust="spacingAndGlyphs">1.16477</text>
<text x="229.9" y="42.4" font-size="11.2" fill="#1e222d" stroke="#1e222d" stroke-width="0.22" textLength="5.7" lengthAdjust="spacingAndGlyphs">L</text>
<text x="236.4" y="42.4" font-size="11.2" fill="#df6b6b" stroke="none" stroke-width="0.22" textLength="35.8" lengthAdjust="spacingAndGlyphs">1.16209</text>
<text x="280" y="42.4" font-size="11.2" fill="#1e222d" stroke="#1e222d" stroke-width="0.22" textLength="5.8" lengthAdjust="spacingAndGlyphs">C</text>
<text x="286.6" y="42.4" font-size="11.2" fill="#df6b6b" stroke="none" stroke-width="0.22" textLength="36.9" lengthAdjust="spacingAndGlyphs">1.16244</text>
<text x="331.5" y="42.4" font-size="11.2" fill="#df6b6b" stroke="none" stroke-width="0.22" textLength="41.6" lengthAdjust="spacingAndGlyphs">−0.00014</text>
<text x="378.1" y="42.4" font-size="11.2" fill="#df6b6b" stroke="none" stroke-width="0.22" textLength="39.1" lengthAdjust="spacingAndGlyphs">(−0.01%)</text>
<text x="424.3" y="42.4" font-size="11.2" fill="#1e222d" stroke="#1e222d" stroke-width="0.22" textLength="15.3" lengthAdjust="spacingAndGlyphs">Vol</text>
<text x="440.4" y="42.4" font-size="11.2" fill="#df6b6b" stroke="none" stroke-width="0.22" textLength="32.8" lengthAdjust="spacingAndGlyphs">27.32 K</text>
<text x="16.8" y="393.6" font-size="11.2" fill="#1e222d" stroke="#1e222d" stroke-width="0.22" textLength="104.4" lengthAdjust="spacingAndGlyphs">MACD (12, 26, close)</text>
<text x="128.6" y="393.6" font-size="11.2" fill="#f6c3cb" stroke="none" stroke-width="0.22" textLength="41.7" lengthAdjust="spacingAndGlyphs">−0.00007</text>
<text x="178.9" y="393.6" font-size="11.2" fill="#4a72e8" stroke="none" stroke-width="0.22" textLength="41.7" lengthAdjust="spacingAndGlyphs">−0.00225</text>
<text x="228" y="393.6" font-size="11.2" fill="#f08a3c" stroke="none" stroke-width="0.22" textLength="42.4" lengthAdjust="spacingAndGlyphs">−0.00217</text>
<text x="17" y="549.1" font-size="11.2" fill="#1e222d" stroke="#1e222d" stroke-width="0.22" textLength="70.8" lengthAdjust="spacingAndGlyphs">RSI (14, close)</text>
<text x="95.5" y="549.1" font-size="11.2" fill="#7562ad" stroke="none" stroke-width="0.22" textLength="24.9" lengthAdjust="spacingAndGlyphs">45.91</text>
<text x="129.1" y="549.1" font-size="11.2" fill="#f3d873" stroke="none" stroke-width="0.22" textLength="26.0" lengthAdjust="spacingAndGlyphs">44.15</text>
</g>
<text x="1203.8" y="74.8" font-size="12.3" fill="#131722" stroke="#131722" stroke-width="0.2" textLength="37.4" lengthAdjust="spacingAndGlyphs">1.19000</text>
<text x="1203.8" y="128.8" font-size="12.3" fill="#131722" stroke="#131722" stroke-width="0.2" textLength="37.4" lengthAdjust="spacingAndGlyphs">1.18000</text>
<text x="1203.8" y="182.8" font-size="12.3" fill="#131722" stroke="#131722" stroke-width="0.2" textLength="37.4" lengthAdjust="spacingAndGlyphs">1.17000</text>
<text x="1203.8" y="236.8" font-size="12.3" fill="#131722" stroke="#131722" stroke-width="0.2" textLength="37.4" lengthAdjust="spacingAndGlyphs">1.16000</text>
<text x="1203.8" y="290.8" font-size="12.3" fill="#131722" stroke="#131722" stroke-width="0.2" textLength="37.4" lengthAdjust="spacingAndGlyphs">1.15000</text>
<text x="1203.8" y="344.8" font-size="12.3" fill="#131722" stroke="#131722" stroke-width="0.2" textLength="37.4" lengthAdjust="spacingAndGlyphs">1.14000</text>
<text x="1204.0" y="405.8" font-size="12.3" fill="#131722" stroke="#131722" stroke-width="0.2" textLength="36.5" lengthAdjust="spacingAndGlyphs">0.01000</text>
<text x="1204.0" y="447.3" font-size="12.3" fill="#131722" stroke="#131722" stroke-width="0.2" textLength="36.5" lengthAdjust="spacingAndGlyphs">0.00500</text>
<text x="1204.3" y="530.3" font-size="12.3" fill="#131722" stroke="#131722" stroke-width="0.2" textLength="42.8" lengthAdjust="spacingAndGlyphs">−0.00500</text>
<text x="1204.3" y="539.1" font-size="12.3" fill="#131722" stroke="#131722" stroke-width="0.2" textLength="25.9" lengthAdjust="spacingAndGlyphs">80.00</text>
<text x="1204.3" y="594.8" font-size="12.3" fill="#131722" stroke="#131722" stroke-width="0.2" textLength="25.9" lengthAdjust="spacingAndGlyphs">60.00</text>
<text x="1204.3" y="650.0" font-size="12.3" fill="#131722" stroke="#131722" stroke-width="0.2" textLength="25.9" lengthAdjust="spacingAndGlyphs">40.00</text>
<rect x="1196" y="53" width="49" height="15.5" rx="2" fill="#2c5ef0"/><text x="1204.2" y="64.8" font-size="11.5" fill="#fff" textLength="36.1" lengthAdjust="spacingAndGlyphs">1.19184</text>
<rect x="1148.8" y="212" width="46" height="15.6" rx="2" fill="#ef5350"/><text x="1152.1" y="223.9" font-size="11.5" fill="#fff" textLength="39.2" lengthAdjust="spacingAndGlyphs">EURUSD</text>
<rect x="1196" y="212" width="52.8" height="28.5" rx="2" fill="#ef5350"/>
<text x="1204.1" y="223.8" font-size="11.5" fill="#fff" textLength="35.9" lengthAdjust="spacingAndGlyphs">1.16244</text>
<text x="1204.1" y="236.8" font-size="11.5" fill="#fff" textLength="39.9" lengthAdjust="spacingAndGlyphs">16:33:09</text>
<rect x="1196" y="248" width="49" height="15.7" rx="2" fill="#2c5ef0"/><text x="1204.2" y="259.9" font-size="11.5" fill="#fff" textLength="36.1" lengthAdjust="spacingAndGlyphs">1.15581</text>
<rect x="1196" y="336" width="49" height="15.5" rx="2" fill="#2c5ef0"/><text x="1204.2" y="347.9" font-size="11.5" fill="#fff" textLength="36.1" lengthAdjust="spacingAndGlyphs">1.13955</text>
<rect x="1196" y="477.4" width="54.5" height="16.1" rx="2" fill="#f8cfd3"/><text x="1204" y="489.6" font-size="11.5" fill="#131722" textLength="42.9" lengthAdjust="spacingAndGlyphs">−0.00007</text>
<rect x="1196" y="493.5" width="54.5" height="15.8" rx="2" fill="#f57c00"/><text x="1204" y="505.5" font-size="11.5" fill="#fff" textLength="42.9" lengthAdjust="spacingAndGlyphs">−0.00217</text>
<rect x="1196" y="509.6" width="54.5" height="15.6" rx="2" fill="#2962ff"/><text x="1204" y="521.5" font-size="11.5" fill="#fff" textLength="42.9" lengthAdjust="spacingAndGlyphs">−0.00225</text>
<rect x="1196" y="622.4" width="37.8" height="14.5" rx="2" fill="#7e57c2"/><text x="1203.5" y="633.8" font-size="11.5" fill="#fff" textLength="26.1" lengthAdjust="spacingAndGlyphs">45.91</text>
<rect x="1196" y="638" width="37.8" height="14.9" rx="2" fill="#f7d53c"/><text x="1203.5" y="649.6" font-size="11.5" fill="#131722" textLength="26.1" lengthAdjust="spacingAndGlyphs">44.15</text>
<text x="136.2" y="703" font-size="11.5" font-weight="bold" fill="#131722" textLength="15.2" lengthAdjust="spacingAndGlyphs">Jul</text>
<text x="390.6" y="703" font-size="11.5" font-weight="bold" fill="#131722" textLength="19.3" lengthAdjust="spacingAndGlyphs">Aug</text>
<text x="624.6" y="703" font-size="11.5" font-weight="bold" fill="#131722" textLength="18.3" lengthAdjust="spacingAndGlyphs">Sep</text>
<text x="870" y="703" font-size="11.5" font-weight="bold" fill="#131722" textLength="16.6" lengthAdjust="spacingAndGlyphs">Oct</text>
<text x="1124.5" y="703" font-size="11.5" font-weight="bold" fill="#131722" textLength="19.2" lengthAdjust="spacingAndGlyphs">Nov</text>
<g fill="#131722">
<rect x="10.9" y="732.8" width="10.9" height="5.3"/>
<rect x="16.6" y="732.8" width="5.3" height="14.1"/>
<circle cx="26.9" cy="735.5" r="2.7"/>
<path d="M32.6,732.8 L38.6,732.8 L33.6,745.6 Q33.1,746.9 31.8,746.9 L27.1,746.9 Z"/>
<text x="45.4" y="746.9" font-size="19.3" font-weight="bold" textLength="111.1" lengthAdjust="spacingAndGlyphs">TradingView</text>
</g>
</svg>
</body></html>
